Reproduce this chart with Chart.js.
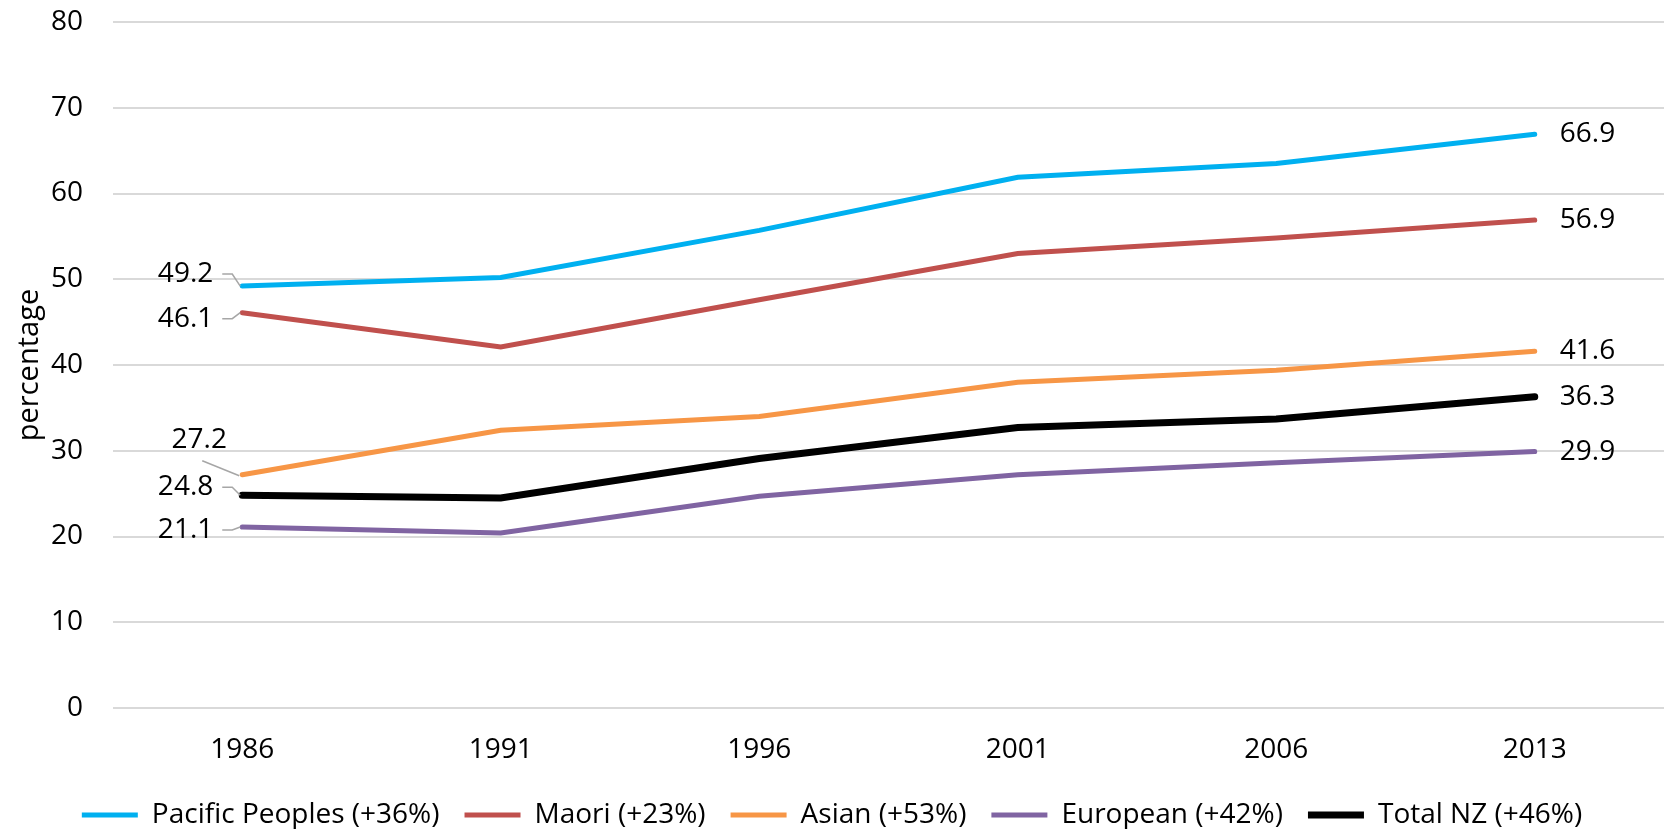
<!DOCTYPE html>
<html>
<head>
<meta charset="utf-8">
<script src="https://cdn.jsdelivr.net/npm/chart.js@4"></script>
<style>
  html, body { margin: 0; padding: 0; background: #fff; }
  #wrap { width: 1669px; height: 829px; }
</style>
</head>
<body>
<div id="wrap"><canvas id="chart" width="1669" height="829"></canvas></div>
<script>
// census years
const years = ["1986", "1991", "1996", "2001", "2006", "2013"];

// percentage by ethnic group
const pacific = [49.2, 50.2, 55.7, 61.9, 63.5, 66.9];
const maori = [46.1, 42.1, 47.6, 53.0, 54.8, 56.9];
const asian = [27.2, 32.4, 34.0, 38.0, 39.4, 41.6];
const european = [21.1, 20.4, 24.7, 27.2, 28.6, 29.9];
const totalNZ = [24.8, 24.5, 29.1, 32.7, 33.7, 36.3];

const seriesNames = ["Pacific Peoples (+36%)", "Maori (+23%)", "Asian (+53%)", "European (+42%)", "Total NZ (+46%)"];
const yTicks = [0, 10, 20, 30, 40, 50, 60, 70, 80];

const FONT = "'Open Sans', sans-serif";

// label placement for the first point of each series (pixel nudges)
const startLabelNudge = [
    { dy: -12 },
    { dy: 6 },
    { dy: -35, diag: true },
    { dy: 3 },
    { dy: -8 }
];

// draws the first / last value beside each line, like the Excel data labels
const endLabels = {
    id: "endLabels",
    afterDatasetsDraw(chart) {
        const ctx = chart.ctx;
        ctx.save();
        ctx.font = "28px " + FONT;
        ctx.fillStyle = "#000";
        ctx.textBaseline = "middle";
        chart.data.datasets.forEach((ds, i) => {
            const meta = chart.getDatasetMeta(i);
            const first = meta.data[0];
            const last = meta.data[meta.data.length - 1];
            const n = startLabelNudge[i];

            // right side label
            ctx.textAlign = "left";
            ctx.fillText(ds.data[ds.data.length - 1].toFixed(1), last.x + 25, last.y);

            // left side label with leader line
            const ly = first.y + n.dy;
            ctx.strokeStyle = "#a6a6a6";
            ctx.lineWidth = 1.5;
            ctx.beginPath();
            if (n.diag) {
                ctx.textAlign = "center";
                ctx.fillText(ds.data[0].toFixed(1), first.x - 43, ly);
                ctx.moveTo(first.x - 40, ly + 21);
                ctx.lineTo(first.x - 3, first.y + 1);
            } else {
                ctx.textAlign = "right";
                ctx.fillText(ds.data[0].toFixed(1), first.x - 29, ly);
                ctx.moveTo(first.x - 20, ly);
                ctx.lineTo(first.x - 10, ly);
                ctx.lineTo(first.x - 2, first.y);
            }
            ctx.stroke();
        });
        ctx.restore();
    }
};

function line(label, data, color, width) {
    return {
        label: label,
        data: data,
        borderColor: color,
        backgroundColor: color,
        borderWidth: width,
        pointRadius: 0,
        pointHoverRadius: 0,
        tension: 0,
        fill: false,
        borderCapStyle: "round",
        pointStyle: "line"
    };
}

const ctx = document.getElementById("chart").getContext("2d");
new Chart(ctx, {
    type: "line",
    data: {
        labels: years,
        datasets: [
            line(seriesNames[0], pacific, "#00B0F0", 5),
            line(seriesNames[1], maori, "#C0504D", 5),
            line(seriesNames[2], asian, "#F79646", 5),
            line(seriesNames[3], european, "#8064A2", 5),
            line(seriesNames[4], totalNZ, "#000000", 7)
        ]
    },
    options: {
        responsive: false,
        animation: false,
        layout: { padding: { top: 0, right: 5, left: 0, bottom: -10 } },
        plugins: {
            tooltip: { enabled: false },
            legend: {
                position: "bottom",
                labels: {
                    font: { family: FONT, size: 28 },
                    color: "#000",
                    usePointStyle: true,
                    pointStyleWidth: 56,
                    boxHeight: 6,
                    padding: 25
                }
            }
        },
        scales: {
            x: {
                offset: true,
                grid: { display: false, drawTicks: false },
                border: { display: false },
                ticks: { font: { family: FONT, size: 28 }, color: "#000", padding: 25 },
                afterFit: scale => { scale.height = 68; }
            },
            y: {
                min: 0,
                max: 80,
                afterBuildTicks: axis => { axis.ticks = yTicks.map(v => ({ value: v })); },
                grid: { color: "#d9d9d9", lineWidth: 2, drawTicks: false },
                border: { display: false },
                ticks: { font: { family: FONT, size: 28 }, color: "#000", padding: 30 },
                title: {
                    display: true,
                    text: "percentage",
                    font: { family: FONT, size: 29 },
                    color: "#000",
                    padding: { top: 12, bottom: 6 }
                },
                afterFit: scale => {
                    scale.width = 113;
                    scale.paddingTop = 22;
                    scale.paddingBottom = 0;
                }
            }
        }
    },
    plugins: [endLabels]
});
</script>
</body>
</html>
